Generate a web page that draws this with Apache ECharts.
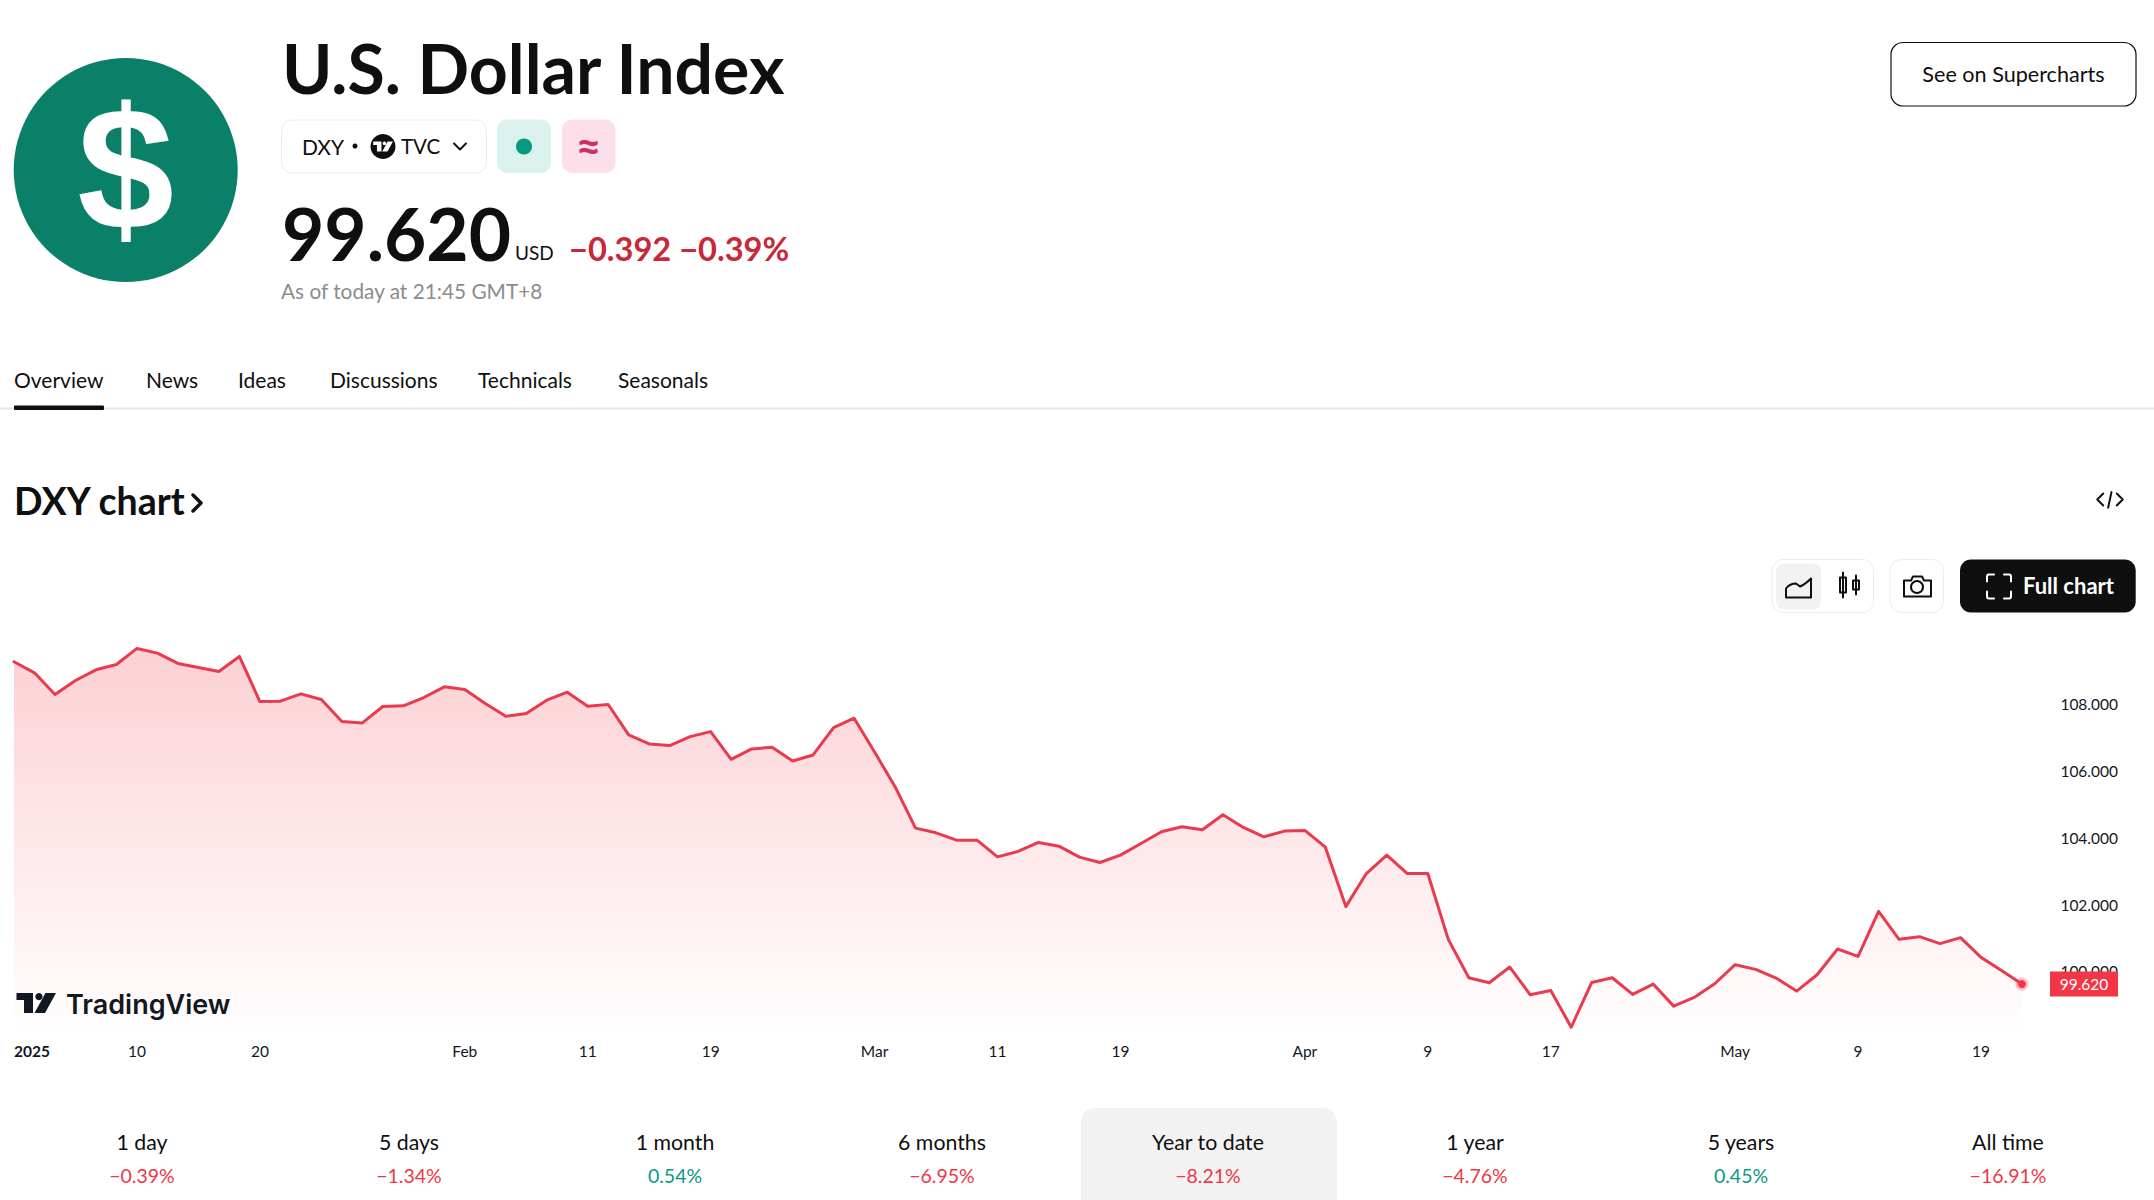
<!DOCTYPE html>
<html><head><meta charset="utf-8"><title>U.S. Dollar Index</title>
<style>html,body{margin:0;padding:0;background:#fff}#c{width:2154px;height:1200px}</style>
<script src="https://cdn.jsdelivr.net/npm/echarts@6/dist/echarts.min.js"></script></head>
<body><div id="c"></div>
<script>
const dates = ['01-02','01-03','01-06','01-07','01-08','01-09','01-10','01-13','01-14','01-15','01-16','01-17','01-20','01-21','01-22','01-23','01-24','01-27','01-28','01-29','01-30','01-31',
'02-03','02-04','02-05','02-06','02-07','02-10','02-11','02-12','02-13','02-14','02-17','02-18','02-19','02-20','02-21','02-24','02-25','02-26','02-27','02-28',
'03-03','03-04','03-05','03-06','03-07','03-10','03-11','03-12','03-13','03-14','03-17','03-18','03-19','03-20','03-21','03-24','03-25','03-26','03-27','03-28','03-31',
'04-01','04-02','04-03','04-04','04-07','04-08','04-09','04-10','04-11','04-14','04-15','04-16','04-17','04-21','04-22','04-23','04-24','04-25','04-28','04-29','04-30',
'05-01','05-02','05-05','05-06','05-07','05-08','05-09','05-12','05-13','05-14','05-15','05-16','05-19','05-20','05-21'];
const closes = [109.27,108.94,108.29,108.71,109.03,109.19,109.67,109.53,109.22,109.10,108.98,109.43,108.08,108.09,108.31,108.14,107.48,107.44,107.93,107.95,108.20,108.52,
108.44,108.02,107.64,107.72,108.12,108.36,107.94,107.99,107.08,106.81,106.76,107.03,107.18,106.35,106.66,106.71,106.30,106.48,107.30,107.58,
106.57,105.53,104.29,104.15,103.93,103.93,103.43,103.59,103.86,103.75,103.42,103.26,103.48,103.83,104.18,104.33,104.24,104.69,104.31,104.03,104.20,
104.22,103.72,101.94,102.93,103.48,102.93,102.93,100.96,99.81,99.66,100.13,99.30,99.43,98.33,99.67,99.81,99.31,99.62,98.96,99.22,99.63,
100.20,100.06,99.80,99.41,99.90,100.67,100.45,101.80,100.96,101.04,100.83,101.01,100.42,100.03,99.62];
const xTickLabels = {'01-02':'2025','01-10':'10','01-20':'20','02-03':'Feb','02-11':'11','02-19':'19','03-03':'Mar','03-11':'11','03-19':'19','04-01':'Apr','04-09':'9','04-17':'17','05-01':'May','05-09':'9','05-19':'19'};
const yTicks = [100,102,104,106,108];
const navTabs = [['Overview',14],['News',146],['Ideas',238],['Discussions',330],['Technicals',478],['Seasonals',618]];
const periodLabels = ['1 day','5 days','1 month','6 months','Year to date','1 year','5 years','All time'];
const periodReturns = ['−0.39%','−1.34%','0.54%','−6.95%','−8.21%','−4.76%','0.45%','−16.91%'];
const periodX = [142,409,675,942,1208,1475,1741,2008];

const FONT = 'Lato,"Open Sans",sans-serif';
const INK = '#0f0f0f', RED = '#f23645', GREEN = '#089981', LINE = '#ea3a4e';
function T(x,y,text,size,fill,weight,align,family){
  return {type:'text',silent:true,z:20,style:{x,y,text,fill,font:`${weight||400} ${size}px ${family||FONT}`,
    textAlign:align||'left',textVerticalAlign:'middle',align:align||'left',verticalAlign:'middle'}};
}
function R(x,y,w,h,r,fill,stroke,lw){
  return {type:'rect',silent:true,z:10,shape:{x,y,width:w,height:h,r},style:{fill:fill||'#fff',stroke:stroke||null,lineWidth:lw||1}};
}
let shapeId = 0;
function P(d,x,y,scale,fill,stroke,lw,z){
  const name = 'icon'+(shapeId++);
  echarts.graphic.registerShape(name, echarts.graphic.extendPath(d,{}));
  return {type:name,silent:true,z:z||20,x,y,scaleX:scale||1,scaleY:scale||1,shape:{},style:{fill:fill||'none',stroke:stroke||'none',lineWidth:lw||0,lineCap:'round',lineJoin:'round'}};
}
const C = (cx,cy,r,fill,stroke,lw)=>({type:'circle',silent:true,z:20,shape:{cx,cy,r},style:{fill:fill||'none',stroke:stroke||'none',lineWidth:lw||0}});
const TV_LOGO = 'M0 0H16.5V20H7.5V7H0Z M22.5 0A3.6 3.6 0 1 1 22.4 0Z M29 0H39.5L28.5 20H18Z';

const graphic = [
  {type:'circle',silent:true,z:10,shape:{cx:125.7,cy:170,r:112},style:{fill:'#0a8068'}},
  T(125.7,168.5,'$',174,'#fff',700,'center','"Liberation Sans",sans-serif'),
  R(281.5,120,205,53,11,'#fff','#ececec',1),
  T(302,146,'DXY',21,INK),
  C(355,146,2.5,INK),
  C(383,146.5,12.5,INK),
  P(TV_LOGO,373.2,141.5,0.5,'#fff'),
  T(401,146,'TVC',20.5,INK),
  P('M0 0L6 6L12 0',454,143.5,1,null,INK,2),
  R(497,119.5,54,53.5,10,'#daf1ed'),
  C(524,146.5,8,'#089981'),
  R(562,119.5,53.5,53.5,10,'#fcdfe9'),
  T(588.5,145,'≈',44,'#cc2f69',700,'center'),
  T(282,233,'99.620',73,INK,700),
  T(515,252,'USD',19,INK),
  T(569,248,'−0.392 −0.39%',32.6,'#c7283a',700),
  T(281,290,'As of today at 21:45 GMT+8',20.8,'#8c8c8c'),
  R(1891,42.5,245,63.5,12,'#fff',INK,1.2),
  T(2013.5,74,'See on Supercharts',21.6,INK,400,'center'),
  R(0,407.5,2154,2,0,'#e6e6e6'),
  R(14,405.5,90,4.5,1,INK),
  ...navTabs.map(([t,x])=>T(x,379,t,21,INK)),
  T(14,500,'DXY chart',37.5,INK,700),
  P('M0 0L8 8L0 16',193,495,1,null,INK,3.4),
  P('M9 2L1 10L9 18 M15.5 21L20 0 M27 2L35 10L27 18',2096.5,492,0.75,null,INK,2.6),
  R(1772,559.5,101.5,53,11,'#fff','#ededed',1),
  R(1776,563.5,45,46,8,'#f2f2f2'),
  P('M1 21V12Q5 7 11 7L15 10Q20 8 26 2V21Z',1785,576.5,1,null,INK,2),
  P('M4 0V25 M1 5H7V20H1Z M17 3V22 M14 8H20V17H14Z',1839,572.5,1,null,INK,2),
  R(1890,559.5,53.5,53,11,'#fff','#ededed',1),
  P('M1 5H8L10 1H19L21 5H28V21H1Z',1903,575.5,1,null,INK,2),
  C(1917,587,6,null,INK,2),
  R(1960,559.5,175.7,53,11,'#0f0f0f'),
  P('M1 8V3Q1 1 3 1H8 M18 1H23Q25 1 25 3V8 M25 18V23Q25 25 23 25H18 M8 25H3Q1 25 1 23V18',1986,573.5,1,null,'#fff',2),
  T(2023,585.5,'Full chart',22,'#fff',700),
  P(TV_LOGO,16.5,993,1,'#131722'),
  T(66,1004,'TradingView',27,'#131722',600,'left','Inter,Roboto,sans-serif'),
  P('M0 92V16Q0 0 16 0H240Q256 0 256 16V92Z',1081,1108,1,'#f2f2f2',null,0,5),
  ...periodLabels.map((t,i)=>T(periodX[i],1142,t,21.3,INK,400,'center')),
  ...periodReturns.map((t,i)=>T(periodX[i],1175,t,19.5,t[0]==='−'?RED:GREEN,400,'center'))
];

const chart = echarts.init(document.getElementById('c'),null,{renderer:'svg'});
chart.setOption({
  animation:false,
  backgroundColor:'#fff',
  title:{text:'U.S. Dollar Index',left:282,top:33,padding:0,textStyle:{fontFamily:FONT,fontSize:68,fontWeight:700,color:INK}},
  grid:{left:14,top:637.4,width:2008,height:400.8,containLabel:false},
  xAxis:{type:'category',data:dates,boundaryGap:false,
    axisLine:{show:false},axisTick:{show:false},splitLine:{show:false},
    axisLabel:{margin:5,fontFamily:FONT,fontSize:15.5,color:'#131722',hideOverlap:false,alignMinLabel:'left',
      interval:(i,v)=>v in xTickLabels,
      formatter:v=>v==='01-02'?'{b|'+xTickLabels[v]+'}':(xTickLabels[v]||''),
      rich:{b:{fontFamily:FONT,fontSize:15.5,fontWeight:700,color:'#131722'}}}},
  yAxis:{type:'value',position:'right',min:98,max:110,interval:2,
    axisLine:{show:false},axisTick:{show:false},splitLine:{show:false},
    axisLabel:{margin:96,align:'right',fontFamily:FONT,fontSize:15.5,color:'#131722',
      formatter:v=>yTicks.includes(v)?v.toFixed(3):''}},
  series:[{type:'line',data:closes,showSymbol:false,symbol:'none',smooth:false,
    lineStyle:{color:LINE,width:3,cap:'round',join:'round'},
    areaStyle:{origin:'start',color:{type:'linear',x:0,y:0,x2:0,y2:1,colorStops:[{offset:0,color:'rgba(242,54,69,0.33)'},{offset:1,color:'rgba(242,54,69,0)'}]}},
    markPoint:{silent:true,symbol:'circle',symbolSize:8,itemStyle:{color:RED,borderColor:'rgba(242,54,69,0.3)',borderWidth:5},label:{show:false},
      data:[{coord:[dates[dates.length-1],closes[closes.length-1]]}]},
    endLabel:{show:true,formatter:p=>closes[p.dataIndex].toFixed(3),distance:0,offset:[62,0],
      backgroundColor:RED,color:'#fff',fontFamily:FONT,fontSize:15.5,padding:[5,9,4,9],width:50,align:'center'}
  }],
  graphic
});
</script></body></html>
